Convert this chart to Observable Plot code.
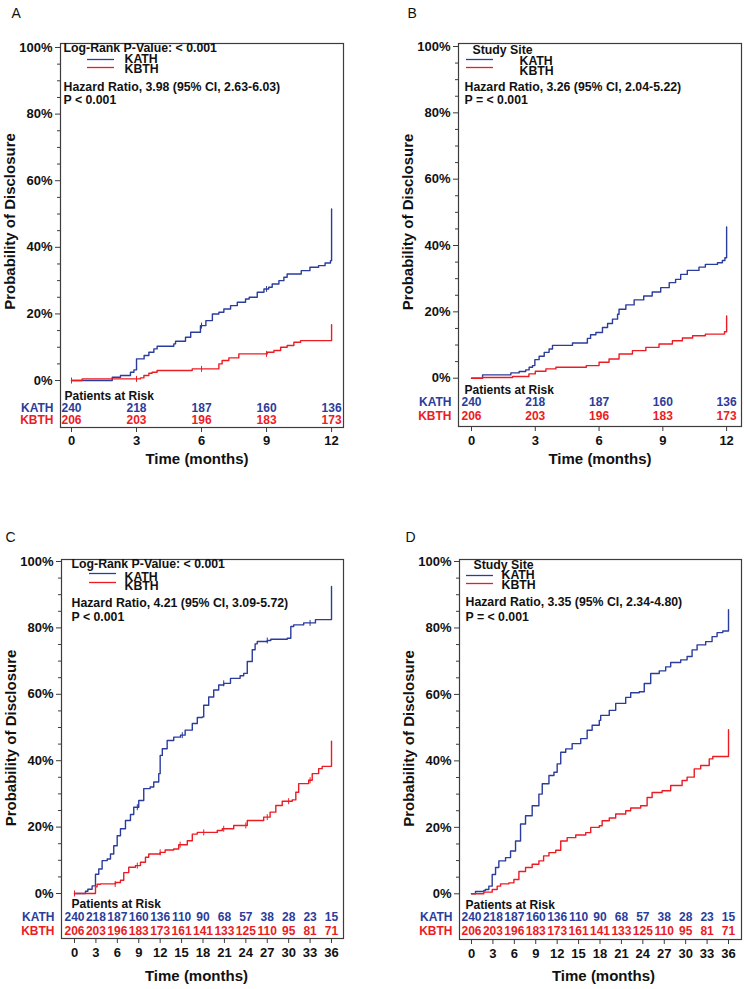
<!DOCTYPE html>
<html><head><meta charset="utf-8">
<script src="https://cdn.jsdelivr.net/npm/d3@7"></script>
<script src="https://cdn.jsdelivr.net/npm/@observablehq/plot@0.6"></script>
<style>
html,body{margin:0;padding:0;background:#fff;}
#wrap{position:relative;width:744px;height:989px;overflow:hidden;font-family:"Liberation Sans",Arial,sans-serif;}
.panel{position:absolute;}
</style></head>
<body><div id="wrap"></div>
<script>
// ---------- data (time in months, cumulative probability in %) ----------
const aKathTime = [0,1.88,2.26,2.72,2.88,3.0,3.35,3.57,3.8,3.95,4.72,4.8,5.26,5.5,5.95,6.2,6.5,6.8,7.03,7.34,7.65,8.03,8.2,8.57,8.88,9.1,9.26,9.57,9.8,9.95,10.6,11.0,11.4,11.7,11.95,12];
const aKathProb = [0,1.0,1.5,2.5,3.2,6.5,7.5,8.5,9.5,10.3,11.0,11.8,13.0,14.5,16.5,18.0,20.0,20.5,21.5,22.5,23.5,24.5,25.0,26.5,27.5,28.0,29.0,30.0,31.0,32.0,33.0,34.0,34.5,35.3,36.0,51.5];
const aKbthTime = [0,0.49,3.18,3.34,3.57,3.72,3.95,5.57,6.8,6.95,7.26,7.72,9.03,9.34,9.65,9.95,10.26,10.57,12];
const aKbthProb = [0,0.5,0.8,1.5,2.2,2.5,3.0,3.5,5.0,6.0,6.8,8.0,8.5,9.0,10.0,10.5,11.5,12.0,16.8];
const aKathCensor = [6,9];
const aKbthCensor = [0,3,6,9];

const bKathTime = [0,0.52,1.85,2.24,2.55,2.71,2.87,2.98,3.18,3.42,3.65,3.81,4.75,5.45,5.6,5.85,6.16,6.4,6.63,6.87,6.94,7.26,7.65,8.1,8.5,8.9,9.3,9.6,9.84,10.15,10.7,11.0,11.57,11.8,11.92,12];
const bKathProb = [0,1.0,1.6,2.0,2.5,3.3,3.8,5.6,6.6,7.8,8.8,9.9,10.6,12.0,13.1,13.8,15.3,16.5,17.8,19.3,20.8,22.1,23.6,24.8,26.0,27.3,28.8,29.8,31.3,32.5,33.5,34.3,34.8,35.5,36.3,45.6];
const bKbthTime = [0,0.52,1.93,2.7,3.0,3.5,3.97,5.4,6.0,6.47,6.94,7.57,8.2,8.82,9.45,9.92,10.4,11.0,11.9,12];
const bKbthProb = [0,0.2,0.5,1.3,2.1,2.8,3.3,3.8,4.8,5.8,7.3,8.3,9.3,10.3,11.3,12.1,12.8,13.3,14.0,18.8];

const cKathTime = [0,1.54,1.87,2.47,2.94,3.4,3.87,4.58,5.04,5.5,5.98,6.44,7.14,7.84,8.3,9.0,9.7,10.6,11.1,11.8,12.0,12.3,12.98,13.9,14.85,15.5,16.5,17.2,17.9,18.1,18.8,19.5,20.2,20.9,21.85,23.2,23.7,24.2,24.9,25.3,25.6,27.0,27.5,29.8,30.3,30.7,32.1,33.75,36];
const cKathProb = [0,0.7,1.3,2.3,5.8,7.4,9.9,10.4,11.9,14.4,17.4,19.5,22.0,23.8,26.0,28.0,31.6,32.1,33.6,36.1,41.6,43.6,46.1,47.1,47.7,49.2,51.2,53.0,53.2,56.7,59.2,61.3,62.8,63.3,64.8,65.6,66.3,69.9,73.4,75.2,75.9,76.2,76.6,76.9,80.4,80.9,81.5,82.5,92.5];
const cKbthTime = [0,2.94,3.17,3.64,5.74,6.44,6.9,7.6,8.54,9.24,9.94,10.4,12.0,12.7,13.9,14.6,15.8,16.5,17.2,20.0,20.7,22.3,24.2,26.5,27.4,28.2,29.1,30.5,31.0,31.4,32.8,33.3,34.2,34.7,36];
const cKbthProb = [0,2.0,2.8,2.9,3.3,4.0,6.3,7.9,8.4,9.4,10.9,11.9,12.4,13.1,13.4,14.7,15.9,17.9,18.4,19.0,19.5,20.5,22.0,23.0,24.5,26.5,27.8,28.2,30.5,33.1,34.1,36.1,37.6,38.3,45.9];
const cKathCensor = [8.8,15.1,20.9,27.0,33.0];
const cKbthCensor = [0,5.7,8.8,12.0,14.8,18.1,20.9,24.0,27.0,30.0,33.0];

const dKathTime = [0,0.56,1.73,1.96,2.43,2.9,3.37,3.83,4.77,5.47,6.17,6.87,7.57,8.5,9.44,9.91,10.85,11.55,12.0,12.5,13.2,14.1,15.3,16.2,16.9,17.9,18.1,19.3,20.2,21.6,22.3,23.5,24.2,25.1,26.3,27.2,27.9,29.3,30.2,30.9,31.6,32.8,33.7,34.4,35.2,36];
const dKathProb = [0,0.7,1.0,1.3,2.3,5.8,7.9,9.9,10.9,12.9,15.9,21.0,23.5,26.5,30.0,33.1,35.6,36.6,39.1,42.6,43.6,45.2,46.7,49.2,50.7,52.2,53.7,55.2,57.3,59.1,60.5,60.8,63.3,66.3,67.1,68.3,69.6,70.4,71.4,73.4,74.9,75.9,77.4,78.6,79.1,85.5];
const dKbthTime = [0,1.73,2.9,3.6,4.07,5.24,5.94,6.64,7.57,8.5,9.44,10.1,10.85,11.8,12.5,13.4,14.6,16.0,16.7,17.9,18.3,19.3,20.2,21.6,22.3,23.7,24.6,25.3,26.7,27.9,29.5,30.2,31.2,32.1,33.3,33.8,36];
const dKbthProb = [0,0.5,1.3,2.3,3.0,3.3,4.3,6.7,7.9,8.9,9.9,11.4,12.4,13.1,15.9,16.9,17.7,18.4,20.0,20.5,22.0,22.8,24.0,25.0,25.8,26.5,29.0,30.5,31.0,32.6,34.1,35.1,37.6,38.6,40.6,41.3,49.4];

const ticks12 = [0,3,6,9,12];
const ticks36 = [0,3,6,9,12,15,18,21,24,27,30,33,36];
const risk12Kath = [240,218,187,160,136];
const risk12Kbth = [206,203,196,183,173];
const risk36Kath = [240,218,187,160,136,110,90,68,57,38,28,23,15];
const risk36Kbth = [206,203,196,183,173,161,141,133,125,110,95,81,71];
const yTicks = [0,20,40,60,80,100];
const yMinor = [5,10,15,25,30,35,45,50,55,65,70,75,85,90,95];

const BLUE = "#2b3d9c", RED = "#ec1c24", INK = "#111", FRAME = "#3c3c3c";

// ---------- helpers ----------
const table = (ts, vs) => ts.map((t, i) => ({t, v: vs[i]}));
const stepAt = (ts, vs, t) => { let v = vs[0]; ts.forEach((x, i) => { if (x <= t + 1e-9) v = vs[i]; }); return v; };
const censorTable = (cs, ts, vs) => cs.map(t => ({t, v: stepAt(ts, vs, t)}));
const vTick = {draw(ctx, size) { const r = Math.sqrt(size / Math.PI); ctx.moveTo(0, -r); ctx.lineTo(0, r); }};
const hLine = {draw(ctx, size) { const r = Math.sqrt(size / Math.PI); ctx.moveTo(-r, 0); ctx.lineTo(r, 0); }};
const bold = {fontWeight: "bold", fill: INK, lineAnchor: "middle"};
const txt = (s, o) => Plot.text([s], {text: d => d, lineAnchor: "middle", ...o});

function panel(c) {
  const marks = [
    Plot.frame({stroke: FRAME, strokeWidth: 1.2}),
    Plot.axisY(yMinor, {tickSize: 3, tickFormat: () => "", stroke: FRAME, label: null}),
    Plot.axisY(yTicks, {tickSize: 5, tickPadding: 3, tickFormat: d => d + "%", fontSize: 13, fontWeight: "bold", fill: INK, stroke: FRAME, label: null}),
    Plot.axisX(c.ticks, {tickSize: 5, tickPadding: c.tickPad, fontSize: 13, fontWeight: "bold", fill: INK, stroke: FRAME, label: null}),
    Plot.line(table(c.kathT, c.kathV), {x: "t", y: "v", curve: "step-after", stroke: BLUE, strokeWidth: 1.4}),
    Plot.line(table(c.kbthT, c.kbthV), {x: "t", y: "v", curve: "step-after", stroke: RED, strokeWidth: 1.4}),
    // axis titles
    txt("Probability of Disclosure", {frameAnchor: "left", dx: c.ylabDx, dy: c.ylabDy, rotate: -90, textAnchor: "middle", fontSize: 15, ...bold}),
    txt("Time (months)", {frameAnchor: "bottom", dx: c.xlabDx, dy: c.xlabDy, textAnchor: "middle", fontSize: 15, ...bold}),
    // panel letter
    txt(c.letter, {frameAnchor: "top-left", dx: c.letterDx, dy: c.letterDy, textAnchor: "start", fontSize: 14, fill: INK}),
    // legend
    txt(c.title, {frameAnchor: "top-left", dx: c.titleDx, dy: c.titleDy, textAnchor: "start", fontSize: 12.3, ...bold}),
    Plot.dot([0], {frameAnchor: "top-left", dx: c.swDx, dy: c.swDy[0], symbol: hLine, r: 13.5, stroke: BLUE, fill: "none", strokeWidth: 1.3}),
    Plot.dot([0], {frameAnchor: "top-left", dx: c.swDx, dy: c.swDy[1], symbol: hLine, r: 13.5, stroke: RED, fill: "none", strokeWidth: 1.3}),
    txt("KATH", {frameAnchor: "top-left", dx: c.keyDx, dy: c.keyDy[0], textAnchor: "start", fontSize: 12.3, ...bold}),
    txt("KBTH", {frameAnchor: "top-left", dx: c.keyDx, dy: c.keyDy[1], textAnchor: "start", fontSize: 12.3, ...bold}),
    txt(c.hr, {frameAnchor: "top-left", dx: c.hrDx, dy: c.hrDy[0], textAnchor: "start", fontSize: 12.3, ...bold}),
    txt(c.p, {frameAnchor: "top-left", dx: c.hrDx, dy: c.hrDy[1], textAnchor: "start", fontSize: 12.3, ...bold}),
    // risk table
    txt("Patients at Risk", {frameAnchor: "bottom-left", dx: c.patDx, dy: c.riskDy[0], textAnchor: "start", fontSize: 12, ...bold}),
    txt("KATH", {frameAnchor: "bottom-left", dx: -7, dy: c.riskDy[1], textAnchor: "end", fontSize: 12, fontWeight: "bold", fill: BLUE}),
    txt("KBTH", {frameAnchor: "bottom-left", dx: -7, dy: c.riskDy[2], textAnchor: "end", fontSize: 12, fontWeight: "bold", fill: RED}),
    Plot.text(c.riskKath, {x: (d, i) => c.ticks[i], text: d => String(d), frameAnchor: "bottom", lineAnchor: "middle", textAnchor: "middle", dy: c.riskDy[1], fontSize: 12, fontWeight: "bold", fill: BLUE}),
    Plot.text(c.riskKbth, {x: (d, i) => c.ticks[i], text: d => String(d), frameAnchor: "bottom", lineAnchor: "middle", textAnchor: "middle", dy: c.riskDy[2], fontSize: 12, fontWeight: "bold", fill: RED})
  ];
  if (c.kathC) marks.push(Plot.dot(censorTable(c.kathC, c.kathT, c.kathV), {x: "t", y: "v", symbol: vTick, r: 3, stroke: BLUE, fill: "none", strokeWidth: 1}));
  if (c.kbthC) marks.push(Plot.dot(censorTable(c.kbthC, c.kbthT, c.kbthV), {x: "t", y: "v", symbol: vTick, r: 3, stroke: RED, fill: "none", strokeWidth: 1}));
  const svg = Plot.plot({
    width: 372, height: c.height,
    marginLeft: c.mL, marginRight: c.mR, marginTop: c.mT, marginBottom: c.mB,
    x: {domain: c.xDomain, label: null},
    y: {domain: c.yDomain, label: null},
    style: {fontFamily: "'Liberation Sans', Arial, sans-serif", background: "white", overflow: "visible"},
    marks
  });
  const div = document.createElement("div");
  div.className = "panel";
  div.style.left = c.left + "px";
  div.style.top = c.top + "px";
  div.appendChild(svg);
  document.getElementById("wrap").appendChild(div);
}

panel({letter: "A", left: 0, top: 0, height: 495, mL: 60, mR: 29, mT: 43, mB: 68,
  xDomain: [-0.508, 12.55], yDomain: [-14.1, 101.2], ticks: ticks12, tickPad: 3,
  kathT: aKathTime, kathV: aKathProb, kbthT: aKbthTime, kbthV: aKbthProb, kathC: aKathCensor, kbthC: aKbthCensor,
  riskKath: risk12Kath, riskKbth: risk12Kbth,
  ylabDx: -50, ylabDy: -14, xlabDx: -5, xlabDy: 32, letterDx: -49, letterDy: -30,
  title: "Log-Rank P-Value: < 0.001", titleDx: 3, titleDy: 5, swDx: 40, swDy: [16, 24], keyDx: 64, keyDy: [16, 26],
  hr: "Hazard Ratio, 3.98 (95% CI, 2.63-6.03)", p: "P < 0.001", hrDx: 3, hrDy: [44, 57],
  patDx: 4, riskDy: [-31, -19, -7]});

panel({letter: "B", left: 372, top: 0, height: 495, mL: 86, mR: 3, mT: 43, mB: 69,
  xDomain: [-0.612, 12.7], yDomain: [-14.56, 100.9], ticks: ticks12, tickPad: 4,
  kathT: bKathTime, kathV: bKathProb, kbthT: bKbthTime, kbthV: bKbthProb,
  riskKath: risk12Kath, riskKbth: risk12Kbth,
  ylabDx: -50, ylabDy: -13, xlabDx: 0, xlabDy: 33, letterDx: -51, letterDy: -30,
  title: "Study Site", titleDx: 14, titleDy: 7, swDx: 21, swDy: [16, 24], keyDx: 61, keyDy: [18, 28],
  hr: "Hazard Ratio, 3.26 (95% CI, 2.04-5.22)", p: "P = < 0.001", hrDx: 6, hrDy: [44, 57],
  patDx: 6, riskDy: [-36, -24, -10]});

panel({letter: "C", left: 0, top: 495, height: 494, mL: 61, mR: 29, mT: 64, mB: 51,
  xDomain: [-1.82, 37.68], yDomain: [-13.55, 100.6], ticks: ticks36, tickPad: 4,
  kathT: cKathTime, kathV: cKathProb, kbthT: cKbthTime, kbthV: cKbthProb, kathC: cKathCensor, kbthC: cKbthCensor,
  riskKath: risk36Kath, riskKbth: risk36Kbth,
  ylabDx: -50, ylabDy: -11, xlabDx: -6, xlabDy: 38, letterDx: -56, letterDy: -22,
  title: "Log-Rank P-Value: < 0.001", titleDx: 10, titleDy: 5, swDx: 41, swDy: [14, 23], keyDx: 63, keyDy: [18, 27],
  hr: "Hazard Ratio, 4.21 (95% CI, 3.09-5.72)", p: "P < 0.001", hrDx: 10, hrDy: [44, 58],
  patDx: 10, riskDy: [-34, -21, -7]});

panel({letter: "D", left: 372, top: 495, height: 494, mL: 87, mR: 3, mT: 64, mB: 50,
  xDomain: [-1.68, 37.82], yDomain: [-13.75, 100.6], ticks: ticks36, tickPad: 4,
  kathT: dKathTime, kathV: dKathProb, kbthT: dKbthTime, kbthV: dKbthProb,
  riskKath: risk36Kath, riskKbth: risk36Kbth,
  ylabDx: -50, ylabDy: -11, xlabDx: 3, xlabDy: 37, letterDx: -54, letterDy: -22,
  title: "Study Site", titleDx: 14, titleDy: 6, swDx: 20, swDy: [16, 24], keyDx: 42, keyDy: [16, 26],
  hr: "Hazard Ratio, 3.35 (95% CI, 2.34-4.80)", p: "P = < 0.001", hrDx: 6, hrDy: [43, 58],
  patDx: 6, riskDy: [-34, -22, -8]});
</script>
</body></html>
